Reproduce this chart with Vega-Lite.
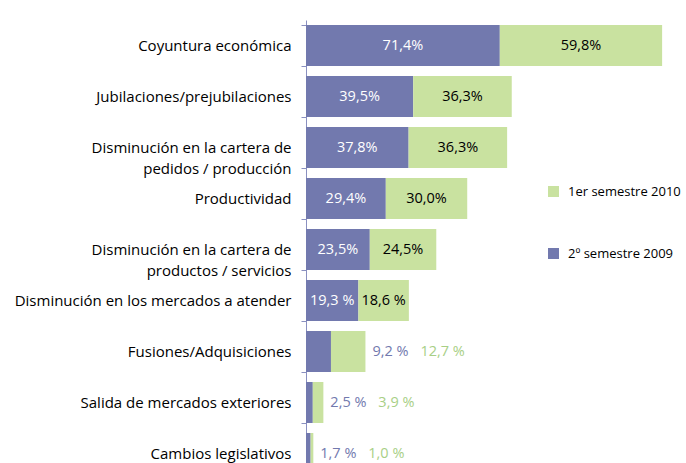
{
  "$schema": "https://vega.github.io/schema/vega-lite/v6.json",
  "width": 380,
  "height": 443,
  "autosize": {"type": "none"},
  "padding": {"left": 306, "top": 20, "right": 0, "bottom": 0},
  "background": "white",
  "config": {"view": {"stroke": null}, "font": "Open Sans"},
  "data": {
    "values": [
      {"cat": "Coyuntura económica", "serie": "2º semestre 2009", "value": 71.4, "label": "71,4%"},
      {"cat": "Coyuntura económica", "serie": "1er semestre 2010", "value": 59.8, "label": "59,8%"},
      {"cat": "Jubilaciones/prejubilaciones", "serie": "2º semestre 2009", "value": 39.5, "label": "39,5%"},
      {"cat": "Jubilaciones/prejubilaciones", "serie": "1er semestre 2010", "value": 36.3, "label": "36,3%"},
      {"cat": "Disminución en la cartera de|pedidos / producción", "serie": "2º semestre 2009", "value": 37.8, "label": "37,8%"},
      {"cat": "Disminución en la cartera de|pedidos / producción", "serie": "1er semestre 2010", "value": 36.3, "label": "36,3%"},
      {"cat": "Productividad", "serie": "2º semestre 2009", "value": 29.4, "label": "29,4%"},
      {"cat": "Productividad", "serie": "1er semestre 2010", "value": 30.0, "label": "30,0%"},
      {"cat": "Disminución en la cartera de|productos / servicios", "serie": "2º semestre 2009", "value": 23.5, "label": "23,5%"},
      {"cat": "Disminución en la cartera de|productos / servicios", "serie": "1er semestre 2010", "value": 24.5, "label": "24,5%"},
      {"cat": "Disminución en los mercados a atender", "serie": "2º semestre 2009", "value": 19.3, "label": "19,3 %"},
      {"cat": "Disminución en los mercados a atender", "serie": "1er semestre 2010", "value": 18.6, "label": "18,6 %"},
      {"cat": "Fusiones/Adquisiciones", "serie": "2º semestre 2009", "value": 9.2, "label": "9,2 %"},
      {"cat": "Fusiones/Adquisiciones", "serie": "1er semestre 2010", "value": 12.7, "label": "12,7 %"},
      {"cat": "Salida de mercados exteriores", "serie": "2º semestre 2009", "value": 2.5, "label": "2,5 %"},
      {"cat": "Salida de mercados exteriores", "serie": "1er semestre 2010", "value": 3.9, "label": "3,9 %"},
      {"cat": "Cambios legislativos", "serie": "2º semestre 2009", "value": 1.7, "label": "1,7 %"},
      {"cat": "Cambios legislativos", "serie": "1er semestre 2010", "value": 1.0, "label": "1,0 %"}
    ]
  },
  "transform": [
    {"stack": "value", "groupby": ["cat"], "sort": [{"field": "serie", "order": "descending"}], "as": ["v0", "v1"]},
    {"calculate": "(datum.v0 + datum.v1) / 2", "as": "mid"},
    {"joinaggregate": [{"op": "max", "field": "v1", "as": "total"}], "groupby": ["cat"]}
  ],
  "encoding": {
    "y": {
      "field": "cat",
      "type": "nominal",
      "sort": null,
      "scale": {"range": [0, 459], "paddingInner": 0.196, "paddingOuter": 0.098},
      "axis": {
        "title": null,
        "tickBand": "extent",
        "tickSize": 5,
        "labelPadding": 10,
        "domainColor": "#8a90c0",
        "tickColor": "#8a90c0",
        "labelFontSize": 15,
        "labelColor": "#000000",
        "labelLimit": 400,
        "labelLineHeight": 21,
        "labelExpr": "split(datum.label, '|')"
      }
    }
  },
  "layer": [
    {
      "mark": {"type": "bar"},
      "encoding": {
        "x": {"field": "v0", "type": "quantitative", "scale": {"domain": [0, 136]}, "axis": null},
        "x2": {"field": "v1"},
        "color": {
          "field": "serie",
          "type": "nominal",
          "scale": {"domain": ["1er semestre 2010", "2º semestre 2009"], "range": ["#c9e2a0", "#7279ae"]},
          "legend": {
            "orient": "none",
            "legendX": 241,
            "legendY": 165,
            "title": null,
            "symbolType": "square",
            "symbolSize": 121,
            "symbolStrokeWidth": 0,
            "labelFontSize": 13,
            "labelColor": "#000000",
            "labelOffset": 8,
            "rowPadding": 48,
            "padding": 0
          }
        }
      }
    },
    {
      "transform": [{"filter": "datum.value >= 15 && datum.serie == '2º semestre 2009'"}],
      "mark": {"type": "text", "color": "white", "fontSize": 14.5, "align": "center", "baseline": "middle"},
      "encoding": {
        "x": {"field": "mid", "type": "quantitative"},
        "text": {"field": "label"}
      }
    },
    {
      "transform": [{"filter": "datum.value >= 15 && datum.serie == '1er semestre 2010'"}],
      "mark": {"type": "text", "color": "black", "fontSize": 14.5, "align": "center", "baseline": "middle"},
      "encoding": {
        "x": {"field": "mid", "type": "quantitative"},
        "text": {"field": "label"}
      }
    },
    {
      "transform": [{"filter": "datum.value < 15 && datum.serie == '2º semestre 2009'"}],
      "mark": {"type": "text", "color": "#7279ae", "fontSize": 14.5, "align": "left", "baseline": "middle", "dx": 7},
      "encoding": {
        "x": {"field": "total", "type": "quantitative"},
        "text": {"field": "label"}
      }
    },
    {
      "transform": [{"filter": "datum.value < 15 && datum.serie == '1er semestre 2010'"}],
      "mark": {"type": "text", "color": "#a8cf86", "fontSize": 14.5, "align": "left", "baseline": "middle", "dx": 55},
      "encoding": {
        "x": {"field": "total", "type": "quantitative"},
        "text": {"field": "label"}
      }
    }
  ]
}
